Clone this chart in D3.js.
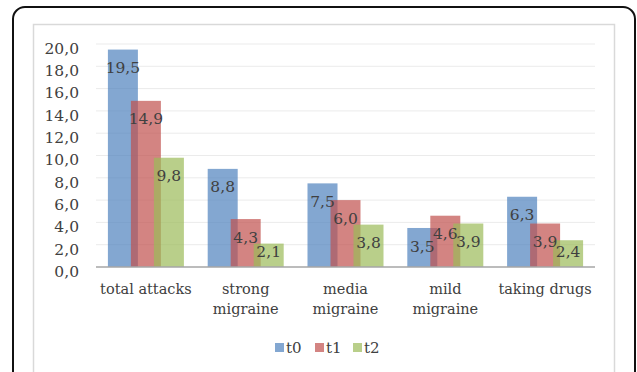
<!DOCTYPE html>
<html>
<head>
<meta charset="utf-8">
<script src="https://cdn.jsdelivr.net/npm/d3@7"></script>
<style>
  html, body { margin: 0; padding: 0; background: #fff; }
  svg { display: block; }
  text { font-family: "DejaVu Serif", serif; fill: #404040; }
</style>
</head>
<body>
<svg id="chart" width="637" height="372"></svg>
<script>
// Migraine indicators at three time points
const categories = [["total attacks"], ["strong", "migraine"], ["media", "migraine"], ["mild", "migraine"], ["taking drugs"]];
const seriesNames = ["t0", "t1", "t2"];
const t0 = [19.5, 8.8, 7.5, 3.5, 6.3];
const t1 = [14.9, 4.3, 6.0, 4.6, 3.9];
const t2 = [9.8, 2.1, 3.8, 3.9, 2.4];
const yTicks = [0, 2, 4, 6, 8, 10, 12, 14, 16, 18, 20];
const colors = ["#4F81BD", "#C0504D", "#9BBB59"];

const series = [t0, t1, t2];
const svg = d3.select("#chart");
const fmt = v => d3.format(".1f")(v).replace(".", ",");

// outer rounded frame and inner chart frame
svg.append("rect").attr("x", 13).attr("y", 7).attr("width", 622).attr("height", 400)
  .attr("rx", 12).attr("fill", "none").attr("stroke", "#111").attr("stroke-width", 2);
svg.append("rect").attr("x", 33.5).attr("y", 24.5).attr("width", 581).attr("height", 380)
  .attr("fill", "none").attr("stroke", "#d9d9d9").attr("stroke-width", 1.5);

const plot = { left: 96, right: 595, top: 44, bottom: 267 };
const x = d3.scaleBand().domain(d3.range(categories.length)).range([plot.left, plot.right]);
const y = d3.scaleLinear().domain([0, 20]).range([plot.bottom, plot.top]);

// gridlines
svg.append("g").selectAll("line").data(yTicks.filter(d => d > 0)).join("line")
  .attr("x1", plot.left).attr("x2", plot.right)
  .attr("y1", d => y(d)).attr("y2", d => y(d))
  .attr("stroke", "#ebebeb").attr("stroke-width", 1);

// y axis labels
const yAxis = d3.axisLeft(y).tickValues(yTicks).tickFormat(fmt).tickSize(0).tickPadding(17);
const gy = svg.append("g").attr("transform", `translate(${plot.left},0)`).call(yAxis);
gy.select(".domain").remove();
gy.selectAll("text").attr("font-size", 15.5).attr("font-family", "DejaVu Serif")
  .attr("fill", "#4a4a4a").attr("dy", "0.6em");

// bars
const barW = 30, step = 23;
const barX = (ci, si) => x(ci) + x.bandwidth() / 2 + (si - 1) * step - barW / 2;
series.forEach((vals, si) => {
  svg.append("g").selectAll("rect").data(vals).join("rect")
    .attr("x", (d, i) => barX(i, si))
    .attr("y", d => y(d))
    .attr("width", barW)
    .attr("height", d => y(0) - y(d))
    .attr("fill", colors[si]).attr("fill-opacity", 0.7);
});

// baseline axis
svg.append("line").attr("x1", plot.left).attr("x2", plot.right)
  .attr("y1", y(0)).attr("y2", y(0)).attr("stroke", "#a6a6a6").attr("stroke-width", 1.5);

// value labels inside the top of each bar
series.forEach((vals, si) => {
  svg.append("g").selectAll("text").data(vals).join("text")
    .attr("x", (d, i) => barX(i, si) + barW / 2)
    .attr("y", d => Math.min(y(d) + 18, 251))
    .attr("dy", "0.36em")
    .attr("text-anchor", "middle")
    .attr("font-size", 15.5).attr("fill", "#333")
    .text(fmt);
});

// category labels
const cat = svg.append("g").selectAll("text").data(categories).join("text")
  .attr("x", (d, i) => x(i) + x.bandwidth() / 2)
  .attr("y", 294)
  .attr("text-anchor", "middle")
  .attr("font-size", 14.5).attr("fill", "#404040");
cat.selectAll("tspan").data(d => d).join("tspan")
  .attr("x", function () { return d3.select(this.parentNode).attr("x"); })
  .attr("dy", (d, i) => i === 0 ? 0 : 20)
  .text(d => d);

// legend
const legendX = [275, 315, 353];
const lg = svg.append("g").selectAll("g").data(seriesNames).join("g")
  .attr("transform", (d, i) => `translate(${legendX[i]},343)`);
lg.append("rect").attr("width", 9).attr("height", 9)
  .attr("fill", (d, i) => colors[i]).attr("fill-opacity", 0.7);
lg.append("text").attr("x", 11).attr("y", 4.5).attr("dy", "0.36em")
  .attr("font-size", 15).attr("fill", "#404040").text(d => d);
</script>
</body>
</html>
